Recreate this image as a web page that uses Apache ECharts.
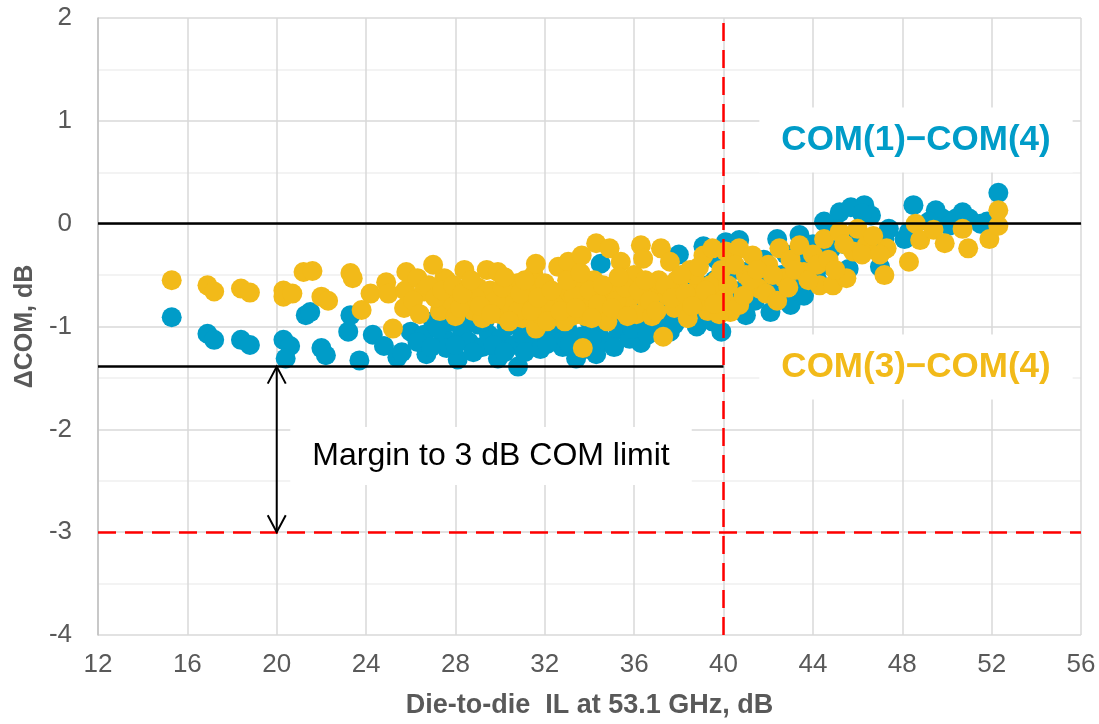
<!DOCTYPE html>
<html><head><meta charset="utf-8">
<script src="https://cdn.jsdelivr.net/npm/echarts@6/dist/echarts.min.js"></script>
<style>html,body{margin:0;padding:0;background:#fff}#c{width:1099px;height:724px}</style>
</head><body><div id="c"></div>
<script>
// COM(1)-COM(4) : [IL dB, dCOM dB]
const com14 = [
 [15.3,-0.91],[16.9,-1.07],[17.2,-1.13],[18.4,-1.13],[18.8,-1.18],[20.3,-1.13],[20.6,-1.19],[20.4,-1.31],
 [21.3,-0.89],[21.5,-0.86],[22.0,-1.21],[22.2,-1.28],[23.2,-1.05],[23.3,-0.89],[23.7,-1.33],[24.3,-1.08],
 [24.8,-1.19],[25.4,-1.30],[25.6,-1.25],[26.0,-1.05],[26.6,-1.08],[26.7,-1.27],[27.0,-0.95],[27.3,-0.97],
 [27.5,-1.11],[27.5,-0.69],[27.6,-1.21],[28.1,-1.32],[28.3,-1.05],[28.6,-1.15],[29.0,-0.98],[29.2,-1.20],
 [29.5,-1.08],[29.9,-1.31],[30.0,-1.12],[30.3,-1.00],[30.6,-1.18],[30.8,-1.39],[31.0,-1.08],[31.2,-0.95],
 [31.5,-1.15],[31.8,-1.22],[32.0,-1.05],[32.3,-0.97],[32.5,-1.12],[32.8,-1.20],[33.0,-1.02],[33.4,-1.31],
 [33.6,-1.10],[33.9,-0.60],[34.0,-0.95],[34.3,-1.27],[34.4,-1.05],[34.5,-0.39],[34.8,-1.15],[35.0,-0.92],
 [35.3,-1.03],[35.6,-0.88],[35.8,-1.12],[36.0,-0.95],[36.3,-1.16],[36.5,-0.85],[36.8,-1.00],[37.0,-0.78],
 [37.3,-0.92],[37.6,-1.05],[37.9,-0.80],[38.2,-0.90],[38.5,-0.70],[38.8,-1.00],[39.1,-0.22],[39.0,-0.85],
 [39.3,-0.60],[39.5,-0.95],[39.7,-0.35],[39.9,-1.05],[40.1,-0.18],[40.3,-0.70],[40.7,-0.16],[41.0,-0.89],
 [41.2,-0.45],[41.6,-0.60],[42.1,-0.86],[42.4,-0.15],[42.6,-0.50],[43.0,-0.79],[43.4,-0.11],[43.8,-0.35],
 [44.2,-0.55],[44.5,0.02],[44.8,-0.25],[45.2,0.11],[45.6,-0.44],[45.7,0.16],[46.0,-0.10],[46.3,0.18],
 [46.6,0.08],[47.0,-0.42],[47.4,-0.05],[48.1,-0.15],[48.5,0.18],[49.5,0.13],[49.8,0.05],[50.1,-0.02],
 [50.7,0.11],[51.0,0.05],[51.8,0.02],[52.3,0.30],
 [26.3,-1.15],[26.9,-1.20],[27.2,-1.02],[27.8,-0.95],[28.0,-1.18],[28.5,-0.92],[28.8,-1.25],[29.3,-0.95],
 [29.7,-1.18],[30.2,-1.25],[30.5,-0.92],[31.1,-1.25],[31.4,-1.02],[31.7,-0.90],[32.1,-1.17],[32.6,-0.93],
 [33.1,-1.17],[33.3,-0.88],[33.8,-1.22],[34.1,-1.12],[34.6,-0.90],[35.1,-1.20],[35.4,-0.80],[35.9,-1.02],
 [36.2,-0.78],[36.6,-1.08],[37.1,-0.95],[37.4,-0.72],[37.8,-0.98],[38.0,-0.65],[38.4,-0.85],[38.6,-0.50],
 [39.2,-0.78],[39.6,-0.55],[40.0,-0.85],[40.5,-0.45],[40.8,-0.65],[41.4,-0.75],[41.8,-0.35],[42.2,-0.65],
 [42.8,-0.30],[43.2,-0.55],[43.6,-0.70],[44.0,-0.20],[44.6,-0.40],[45.0,-0.05],[45.4,-0.20],[46.2,0.10],
 [46.8,-0.25],[47.2,-0.15],[48.3,-0.08],[49.2,0.02],[50.4,0.05],[51.5,0.00],[38.0,-0.30],[39.5,-0.25]
];
// COM(3)-COM(4)
const com34 = [
 [15.3,-0.55],[16.9,-0.60],[17.2,-0.66],[18.4,-0.63],[18.8,-0.67],[20.3,-0.65],[20.3,-0.71],[20.7,-0.68],
 [21.2,-0.47],[21.6,-0.46],[22.0,-0.71],[22.3,-0.75],[23.3,-0.48],[23.4,-0.53],[23.8,-0.84],[24.2,-0.68],
 [24.9,-0.57],[25.0,-0.68],[25.2,-1.02],[25.7,-0.82],[25.8,-0.47],[25.75,-0.65],[26.3,-0.53],[26.6,-0.66],
 [27.0,-0.40],[27.3,-0.85],[27.5,-0.53],[27.6,-0.55],[27.8,-0.75],[28.0,-0.90],[28.4,-0.45],[28.5,-0.70],
 [28.8,-0.85],[29.0,-0.62],[29.4,-0.45],[29.5,-0.78],[29.55,-0.65],[29.9,-0.47],[30.0,-0.88],[30.3,-0.70],
 [30.5,-0.80],[30.75,-0.58],[31.0,-0.92],[31.2,-0.75],[31.5,-0.50],[31.6,-0.39],[31.6,-1.02],[31.9,-0.68],
 [32.2,-0.85],[32.6,-0.42],[32.8,-0.72],[33.05,-0.37],[33.2,-0.90],[33.5,-0.62],[33.65,-0.31],[33.7,-1.21],
 [33.9,-0.80],[34.2,-0.55],[34.3,-0.19],[34.5,-0.88],[34.7,-0.70],[34.9,-0.24],[35.1,-0.60],[35.4,-0.37],
 [35.5,-0.85],[35.8,-0.72],[36.0,-0.50],[36.3,-0.21],[36.4,-0.34],[36.6,-0.80],[36.9,-0.62],[37.2,-0.24],
 [37.3,-1.10],[37.5,-0.70],[37.6,-0.37],[37.9,-0.55],[38.2,-0.78],[38.5,-0.45],[38.8,-0.65],[39.1,-0.31],
 [39.3,-0.85],[39.5,-0.24],[39.7,-0.55],[40.0,-0.72],[40.1,-0.27],[40.3,-0.86],[40.7,-0.24],[40.7,-0.79],
 [41.0,-0.50],[41.3,-0.31],[41.6,-0.63],[42.0,-0.40],[42.5,-0.24],[42.7,-0.53],[43.0,-0.35],[43.4,-0.21],
 [43.6,-0.47],[44.0,-0.30],[44.3,-0.60],[44.5,-0.15],[44.9,-0.60],[45.2,-0.08],[45.5,-0.53],[45.8,-0.27],
 [46.0,-0.05],[46.4,-0.21],[47.2,-0.50],[47.3,-0.24],[48.3,-0.37],[48.6,0.00],[48.8,-0.16],[49.4,-0.06],
 [49.9,-0.19],[50.7,-0.05],[50.95,-0.24],[51.9,-0.15],[52.3,-0.02],[52.3,0.13],
 [28.2,-0.82],[28.9,-0.72],[29.2,-0.92],[29.8,-0.75],[30.1,-0.62],[30.8,-0.85],[31.3,-0.65],[31.8,-0.88],
 [32.0,-0.58],[32.4,-0.78],[32.9,-0.95],[33.3,-0.70],[33.8,-0.90],[34.0,-0.65],[34.4,-0.78],[34.8,-0.95],
 [35.2,-0.75],[35.6,-0.62],[36.1,-0.88],[36.4,-0.70],[36.8,-0.90],[37.1,-0.55],[37.8,-0.82],[38.0,-0.62],
 [38.4,-0.92],[38.7,-0.50],[39.0,-0.75],[39.4,-0.60],[39.8,-0.88],
 [26.1,-0.75],[26.4,-0.88],[26.8,-0.60],[27.1,-0.72],[27.4,-0.65],[27.9,-0.60],[28.3,-0.68],[28.7,-0.55],
 [29.1,-0.80],[29.6,-0.88],[30.2,-0.52],[30.4,-0.95],[30.9,-0.68],[31.1,-0.55],[31.4,-0.85],[31.7,-0.72],
 [32.1,-0.95],[32.3,-0.65],[32.7,-0.85],[33.0,-0.55],[33.4,-0.82],[33.6,-0.48],[34.1,-0.92],[34.6,-0.60],
 [35.0,-0.82],[35.3,-0.52],[35.7,-0.90],[36.2,-0.65],[36.5,-0.55],[36.7,-0.75],[37.0,-0.85],[37.4,-0.60],
 [37.7,-0.72],[38.1,-0.50],[38.3,-0.68],[38.6,-0.80],[38.9,-0.42],[39.2,-0.65],[39.6,-0.78],[39.9,-0.45],
 [40.2,-0.60],[40.5,-0.40],[40.9,-0.70],[41.2,-0.55],[41.5,-0.45],[41.9,-0.68],[42.2,-0.50],[42.4,-0.75],
 [42.9,-0.62],[43.2,-0.45],[43.8,-0.55],[44.2,-0.40],[44.7,-0.35],[45.0,-0.45],[45.4,-0.20],[46.2,-0.30],
 [46.7,-0.12],[47.0,-0.30]
];
const zeroLine = 0;
const worstLine = -1.39;
const comLimit = -3;
const ilLimit = 40;
const arrowX = 20;
const xRange = [12, 56, 4];
const yRange = [-4, 2, 1];
const seriesNames = ['COM(1)\u2212COM(4)', 'COM(3)\u2212COM(4)'];
const marginText = 'Margin to 3 dB COM limit';

const FONT = 'Liberation Sans, Arial, sans-serif';
const BLUE = '#009CC8', ORANGE = '#F2BA19';
const BLACK_LINE = {color: '#000', width: 2.5, type: 'solid'};
const RED_DASH = {color: '#ff0000', width: 2.5, type: [18, 9]};
const chart = echarts.init(document.getElementById('c'), null, {renderer: 'canvas'});
chart.setOption({
  animation: false,
  backgroundColor: '#fff',
  grid: {left: 98, right: 18, top: 18, bottom: 88},
  xAxis: {
    type: 'value', min: xRange[0], max: xRange[1], interval: xRange[2],
    name: 'Die-to-die  IL at 53.1 GHz, dB', nameLocation: 'middle', nameGap: 57,
    nameTextStyle: {fontFamily: FONT, fontWeight: 'bold', fontSize: 27, color: '#595959'},
    axisLine: {show: true, lineStyle: {color: '#bfbfbf', width: 1.5}},
    axisTick: {show: false},
    axisLabel: {fontFamily: FONT, fontSize: 26, color: '#595959', margin: 17},
    splitLine: {show: true, lineStyle: {color: '#d9d9d9', width: 1.5}}
  },
  yAxis: {
    type: 'value', min: yRange[0], max: yRange[1], interval: yRange[2],
    name: '\u0394COM, dB', nameLocation: 'middle', nameGap: 58, nameRotate: 90,
    nameTextStyle: {fontFamily: FONT, fontWeight: 'bold', fontSize: 25, color: '#595959'},
    axisLine: {show: true, lineStyle: {color: '#bfbfbf', width: 1.5}},
    axisTick: {show: false},
    minorTick: {show: false, splitNumber: 2},
    minorSplitLine: {show: true, lineStyle: {color: '#efefef', width: 1.5}},
    axisLabel: {fontFamily: FONT, fontSize: 26, color: '#595959', margin: 26},
    splitLine: {show: true, lineStyle: {color: '#d9d9d9', width: 1.5}}
  },
  series: [
    {name: seriesNames[0], type: 'scatter', data: com14, symbolSize: 20,
     itemStyle: {color: BLUE, opacity: 1}, z: 2},
    {name: seriesNames[1], type: 'scatter', data: com34, symbolSize: 20,
     itemStyle: {color: ORANGE, opacity: 1}, z: 3,
     markLine: {
       silent: true, symbol: ['none', 'none'], z: 6, label: {show: false},
       lineStyle: BLACK_LINE,
       data: [
         {yAxis: zeroLine, lineStyle: BLACK_LINE},
         [{coord: [xRange[0], worstLine], lineStyle: BLACK_LINE}, {coord: [ilLimit, worstLine], lineStyle: BLACK_LINE}],
         {yAxis: comLimit, lineStyle: RED_DASH},
         {xAxis: ilLimit, lineStyle: RED_DASH}
       ]
     }},
    {type: 'custom', z: 7, silent: true, data: [[arrowX, worstLine, comLimit]],
     encode: {x: 0, y: 1},
     renderItem: function (params, api) {
       const a = api.coord([api.value(0), api.value(1)]);
       const b = api.coord([api.value(0), api.value(2)]);
       const st = {stroke: '#000', lineWidth: 2, fill: null};
       return {type: 'group', children: [
         {type: 'line', shape: {x1: a[0], y1: a[1], x2: b[0], y2: b[1]}, style: st},
         {type: 'polyline', shape: {points: [[a[0] - 9, a[1] + 17], [a[0], a[1]], [a[0] + 9, a[1] + 17]]}, style: st},
         {type: 'polyline', shape: {points: [[b[0] - 9, b[1] - 17], [b[0], b[1]], [b[0] + 9, b[1] - 17]]}, style: st}
       ]};
     }}
  ],
  graphic: [
    {type: 'text', x: 916, y: 140, z: 10, style: {text: seriesNames[0], font: 'bold 35px ' + FONT, fill: BLUE,
      align: 'center', verticalAlign: 'middle', backgroundColor: '#fff', padding: [15, 22]}},
    {type: 'text', x: 916, y: 367, z: 10, style: {text: seriesNames[1], font: 'bold 35px ' + FONT, fill: ORANGE,
      align: 'center', verticalAlign: 'middle', backgroundColor: '#fff', padding: [15, 22]}},
    {type: 'text', x: 491, y: 456, z: 10, style: {text: marginText, font: '32px ' + FONT, fill: '#000',
      align: 'center', verticalAlign: 'middle', backgroundColor: '#fff', padding: [13, 22]}}
  ]
});
</script></body></html>
